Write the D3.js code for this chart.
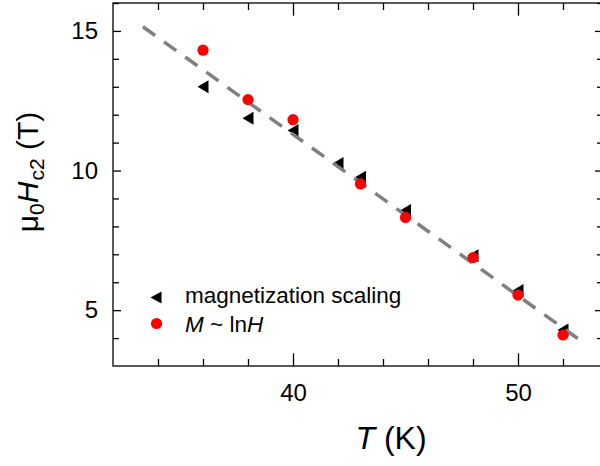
<!DOCTYPE html>
<html lang="en">
  <head>
    <meta charset="UTF-8" />
    <title>Hc2 vs T</title>
    <script src="https://cdn.jsdelivr.net/npm/d3@7"></script>
    <style>
      body { margin: 0; background: #fff; }
      svg { display: block; font-family: "Liberation Sans", Arial, sans-serif; }
      .axis text { font-size: 24px; fill: #000; }
      .axis line { stroke: #000; stroke-width: 1.3; }
      .axis path { display: none; }
    </style>
  </head>
  <body>
    <svg width="600" height="466"></svg>

    <script>
      // magnetization scaling (triangles)
      var triT = [36, 38, 40, 42, 43, 45, 48, 50, 52];
      var triH = [13.0, 11.87, 11.43, 10.25, 9.76, 8.57, 6.95, 5.7, 4.29];
      // M ~ lnH (circles)
      var cirT = [36, 38, 40, 43, 45, 48, 50, 52];
      var cirH = [14.31, 12.54, 11.82, 9.52, 8.32, 6.88, 5.54, 4.11];
      // dashed linear fit, end points
      var fitT = [33.33, 53.04];
      var fitH = [15.15, 3.76];

      var xMajor = [40, 50];
      var xMinor = [34, 36, 38, 42, 44, 46, 48, 52];
      var yMajor = [5, 10, 15];
      var yMinor = [4, 6, 7, 8, 9, 11, 12, 13, 14, 16];

      var svg = d3.select("svg"),
        margin = { top: 3, right: -3, bottom: 100, left: 113 },
        width = +svg.attr("width") - margin.left - margin.right,
        height = +svg.attr("height") - margin.top - margin.bottom;

      var x = d3.scaleLinear().domain([32, 32 + width / 22.5]).range([0, width]),
        y = d3.scaleLinear().domain([3, 16]).range([height, 0]);

      var g = svg
        .append("g")
        .attr("transform", "translate(" + margin.left + "," + margin.top + ")");

      // ticks, all pointing inward
      function ticks(axisFn, scale, vals, size, pad, tr, labels) {
        var a = axisFn(scale)
          .tickValues(vals)
          .tickSizeInner(-size)
          .tickSizeOuter(0)
          .tickPadding(pad);
        if (!labels) a.tickFormat("");
        g.append("g").attr("class", "axis").attr("transform", tr).call(a);
      }
      ticks(d3.axisBottom, x, xMajor, 12.7, 18, "translate(0," + height + ")", true);
      ticks(d3.axisBottom, x, xMinor, 7, 0, "translate(0," + height + ")", false);
      ticks(d3.axisTop, x, xMajor, 12.7, 0, "translate(0,0)", false);
      ticks(d3.axisTop, x, xMinor, 7, 0, "translate(0,0)", false);
      ticks(d3.axisLeft, y, yMajor, 8, 15, "translate(0,0)", true);
      ticks(d3.axisLeft, y, yMinor, 6, 0, "translate(0,0)", false);
      ticks(d3.axisRight, y, yMajor, 8, 0, "translate(" + width + ",0)", false);
      ticks(d3.axisRight, y, yMinor, 6, 0, "translate(" + width + ",0)", false);

      g.append("rect")
        .attr("width", width)
        .attr("height", height)
        .attr("fill", "none")
        .attr("stroke", "#000")
        .attr("stroke-width", 1.3);

      var tri = "M-5.5,0L5.5,-6.5L5.5,6.5Z";

      g.selectAll(".tri")
        .data(triT)
        .enter()
        .append("path")
        .attr("class", "tri")
        .attr("d", tri)
        .attr("transform", function (d, i) {
          return "translate(" + x(d) + "," + y(triH[i]) + ")";
        })
        .attr("fill", "#000");

      var line = d3
        .line()
        .x(function (d) { return x(d); })
        .y(function (d, i) { return y(fitH[i]); });

      g.append("path")
        .datum(fitT)
        .attr("d", line)
        .attr("fill", "none")
        .attr("stroke", "#808080")
        .attr("stroke-width", 3.5)
        .attr("stroke-dasharray", "15,11");

      g.selectAll(".cir")
        .data(cirT)
        .enter()
        .append("circle")
        .attr("class", "cir")
        .attr("cx", function (d) { return x(d); })
        .attr("cy", function (d, i) { return y(cirH[i]); })
        .attr("r", 5.6)
        .attr("fill", "#ff0000");

      // legend
      svg.append("path")
        .attr("d", "M-5.5,0L5.5,-6L5.5,6Z")
        .attr("transform", "translate(156,297.5)")
        .attr("fill", "#000");
      svg.append("circle")
        .attr("cx", 156.5)
        .attr("cy", 323.5)
        .attr("r", 5.6)
        .attr("fill", "#ff0000");
      svg.append("text")
        .attr("x", 185)
        .attr("y", 303)
        .attr("font-size", 22.5)
        .text("magnetization scaling");
      var l2 = svg.append("text").attr("x", 185).attr("y", 332).attr("font-size", 22.5);
      l2.append("tspan").attr("font-style", "italic").text("M");
      l2.append("tspan").text(" ~ ln");
      l2.append("tspan").attr("font-style", "italic").text("H");

      // axis titles
      var xt = svg.append("text")
        .attr("x", 391)
        .attr("y", 449)
        .attr("text-anchor", "middle")
        .attr("font-size", 32);
      xt.append("tspan").attr("font-style", "italic").text("T");
      xt.append("tspan").text(" (K)");

      var yt = svg.append("text")
        .attr("transform", "translate(38,172) rotate(-90)")
        .attr("text-anchor", "middle")
        .attr("font-size", 30);
      yt.append("tspan").text("\u03bc");
      yt.append("tspan").attr("font-size", 21).attr("dy", 6).text("0");
      yt.append("tspan").attr("font-style", "italic").attr("dy", -6).text("H");
      yt.append("tspan").attr("font-size", 21).attr("dy", 6).attr("dx", 1).text("c2");
      yt.append("tspan").attr("dy", -6).text(" (T)");
    </script>
  </body>
</html>
